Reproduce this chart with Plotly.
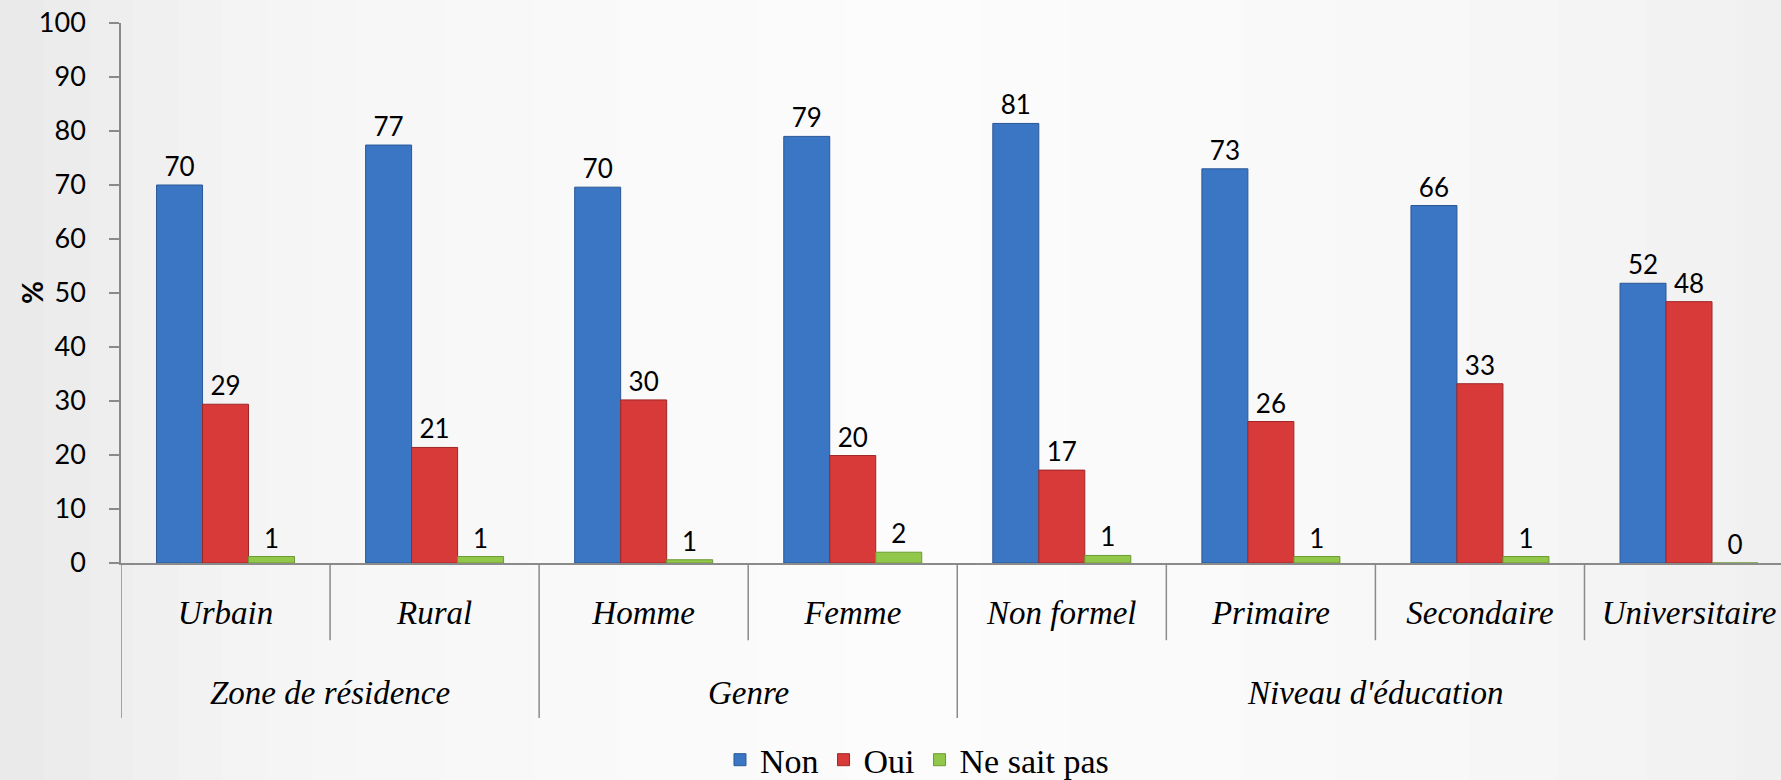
import plotly.graph_objects as go

# ---- data ----
categories = ["Urbain", "Rural", "Homme", "Femme", "Non formel", "Primaire", "Secondaire", "Universitaire"]
group_names = ["Zone de résidence", "Genre", "Niveau d'éducation"]
group_sizes = [2, 2, 4]
series_names = ["Non", "Oui", "Ne sait pas"]
non = [70, 77.4, 69.6, 79, 81.4, 73, 66.2, 51.8]
oui = [29.4, 21.4, 30.2, 19.9, 17.2, 26.2, 33.2, 48.4]
nsp = [1.2, 1.2, 0.6, 2.0, 1.4, 1.2, 1.2, 0]
y_ticks = list(range(0, 101, 10))

colors = ["#3a76c3", "#d83a3a", "#92c84a"]
outlines = ["#2a5895", "#9e2626", "#6d9a33"]
SERIF = "Liberation Serif"

xs = list(range(len(categories)))
fig = go.Figure()
for name, vals, c, oc in zip(series_names, [non, oui, nsp], colors, outlines):
    fig.add_trace(go.Bar(
        name=name, x=xs, y=vals,
        marker=dict(color=c, line=dict(color=oc, width=1)),
        texttemplate="%{y:.0f}", textposition="outside",
        textfont=dict(family="Lato", size=26, color="black"),
        cliponaxis=False,
    ))

axis_gray = "#8a8a8a"
shapes = []

# soft background shading (light gray at the edges, whiter in the middle)
bg_stops = [(0.0, 233), (0.17, 246), (0.5, 252), (0.8, 248), (1.0, 240)]
n_strips = 40
for k in range(n_strips):
    t = (k + 0.5) / n_strips
    for (t0, g0), (t1, g1) in zip(bg_stops[:-1], bg_stops[1:]):
        if t0 <= t <= t1:
            g = round(g0 + (g1 - g0) * (t - t0) / (t1 - t0))
            break
    shapes.append(dict(type="rect", xref="paper", yref="paper", layer="below",
                       x0=(-121 + 1781 * k / n_strips) / 1660, x1=(-121 + 1781 * (k + 1) / n_strips + 1) / 1660,
                       y0=-0.41, y1=1.05, line=dict(width=0),
                       fillcolor=f"rgb({g},{g},{g})"))

bounds = [-0.5]
for s in group_sizes:
    bounds.append(bounds[-1] + s)
inner_y = -0.143
outer_y = -0.287
for b in bounds:
    shapes.append(dict(type="line", xref="x", yref="paper", x0=b, x1=b, y0=0, y1=outer_y,
                       line=dict(color=axis_gray, width=1.5)))
for b in [i + 0.5 for i in range(len(categories) - 1)]:
    if b not in bounds:
        shapes.append(dict(type="line", xref="x", yref="paper", x0=b, x1=b, y0=0, y1=inner_y,
                           line=dict(color=axis_gray, width=1.5)))

annotations = []
for g, lo, hi in zip(group_names, bounds[:-1], bounds[1:]):
    annotations.append(dict(text="<i>" + g + "</i>", x=(lo + hi) / 2, xref="x", y=-0.24, yref="paper",
                            yanchor="middle", xanchor="center", showarrow=False,
                            font=dict(family=SERIF, size=33, color="black")))
annotations.append(dict(text="<b>%</b>", textangle=-90, x=-0.0536, xref="paper", y=0.5, yref="paper",
                        xanchor="center", yanchor="middle", showarrow=False,
                        font=dict(family="Lato", size=28, color="black")))

fig.update_layout(
    width=1781, height=780,
    margin=dict(l=121, r=0, t=23, b=217, autoexpand=False),
    paper_bgcolor="#f5f5f5", plot_bgcolor="rgba(0,0,0,0)",
    barmode="group", bargap=0.34, bargroupgap=0,
    shapes=shapes, annotations=annotations,
    showlegend=True,
    legend=dict(orientation="h", x=0.4795, xanchor="center", y=-0.365, yanchor="middle",
                font=dict(family=SERIF, size=34, color="black"),
                bgcolor="rgba(0,0,0,0)", itemclick=False),
    xaxis=dict(range=[-0.5, 7.44], tickvals=xs, ticktext=["<i>" + c + "</i>" for c in categories],
               ticks="", automargin=False,
               showline=True, linecolor=axis_gray, linewidth=1.5, showgrid=False, zeroline=False,
               tickfont=dict(family=SERIF, size=33, color="black"),
               ticklabelstandoff=20),
    yaxis=dict(range=[0, 100], tickvals=y_ticks, ticks="outside", ticklen=10, tickcolor=axis_gray,
               tickwidth=1.5, showline=True, linecolor=axis_gray, linewidth=1.5,
               showgrid=False, zeroline=False, automargin=False,
               tickfont=dict(family="Lato", size=27, color="black"), ticklabelstandoff=18),
)

fig.write_html("out.html", post_script="document.body.style.margin='0';",
               config={"displayModeBar": False})
